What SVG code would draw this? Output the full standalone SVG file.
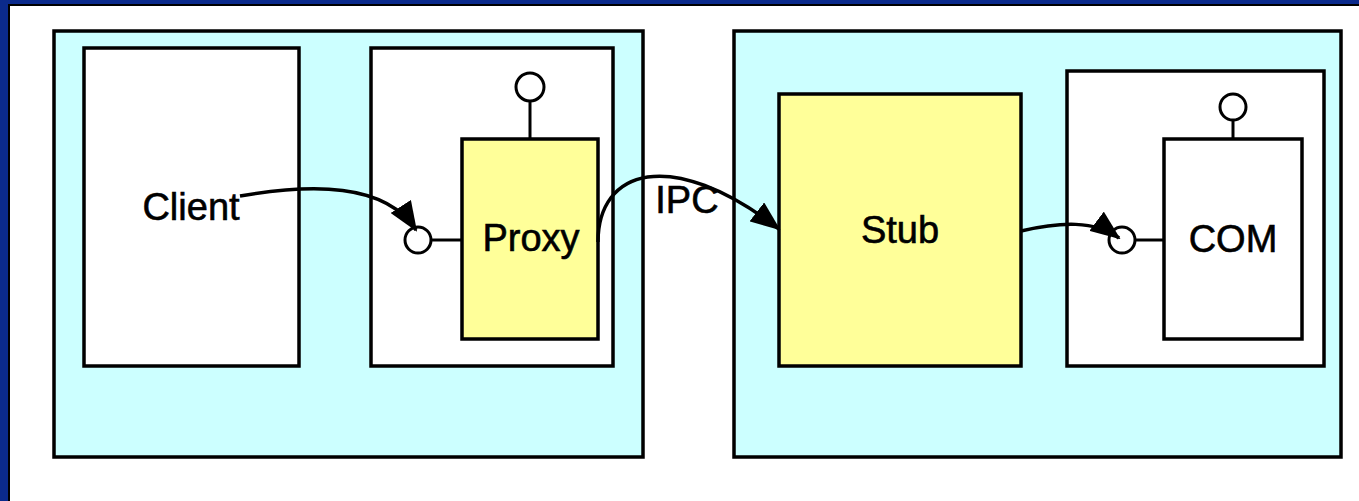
<svg xmlns="http://www.w3.org/2000/svg" width="1359" height="501" viewBox="0 0 1359 501">
<style>
.frame{fill:#ccffff;stroke:#000;stroke-width:3.5}
.box{fill:#fff;stroke:#000;stroke-width:3.5}
.yel{fill:#ffff99;stroke:#000;stroke-width:3.5}
.lolli{fill:#fff;stroke:#000;stroke-width:3}
.stem{stroke:#000;stroke-width:3;fill:none}
.lbl{font-family:"Liberation Sans",Arial,sans-serif;font-size:38px;fill:#000;stroke:#000;stroke-width:0.6;text-anchor:middle}
.conn{fill:none;stroke:#000;stroke-width:3.5}
</style>
<defs>
<marker id="ah" markerWidth="30" markerHeight="24" refX="28" refY="12" orient="auto" markerUnits="userSpaceOnUse">
<path d="M0,0 L30,12 L0,24 Z" fill="#000"/>
</marker>
</defs>
<rect x="0" y="0" width="1359" height="501" fill="#0b2a8c"/>
<rect x="9" y="5" width="1360" height="510" fill="#fff" stroke="#000" stroke-width="2"/>
<g id="process-left">
<rect class="frame" x="54" y="31" width="589" height="426"/>
</g>
<g id="process-right">
<rect class="frame" x="734" y="31" width="607" height="426"/>
</g>
<g id="client">
<rect class="box" x="84" y="48" width="215" height="318"/>
<text class="lbl" x="191" y="220">Client</text>
</g>
<g id="proxy-container">
<rect class="box" x="371" y="48" width="242" height="318"/>
</g>
<g id="proxy">
<rect class="yel" x="462" y="139" width="136" height="200"/>
<line class="stem" x1="530" y1="101" x2="530" y2="139"/>
<circle class="lolli" cx="530" cy="87" r="14"/>
<line class="stem" x1="431" y1="240" x2="462" y2="240"/>
<circle class="lolli" cx="418" cy="240" r="13"/>
<text class="lbl" x="531" y="251">Proxy</text>
</g>
<g id="stub">
<rect class="yel" x="779" y="94" width="242" height="272"/>
<text class="lbl" x="900" y="243">Stub</text>
</g>
<g id="com-container">
<rect class="box" x="1067" y="71" width="257" height="295"/>
</g>
<g id="com">
<rect class="box" x="1164" y="139" width="138" height="200"/>
<line class="stem" x1="1233" y1="120" x2="1233" y2="139"/>
<circle class="lolli" cx="1233" cy="107" r="13"/>
<line class="stem" x1="1135" y1="240" x2="1164" y2="240"/>
<circle class="lolli" cx="1122" cy="240" r="13"/>
<text class="lbl" x="1233" y="252">COM</text>
</g>
<g id="connectors">
<path class="conn" d="M240 196 C310 184 385 182 416 230" marker-end="url(#ah)"/>
<path class="conn" d="M598 242 C598 170 670 145 779 229" marker-end="url(#ah)"/>
<path class="conn" d="M1021 231 C1060 222 1095 220 1119 238" marker-end="url(#ah)"/>
<text class="lbl" x="687" y="213">IPC</text>
</g>
</svg>
